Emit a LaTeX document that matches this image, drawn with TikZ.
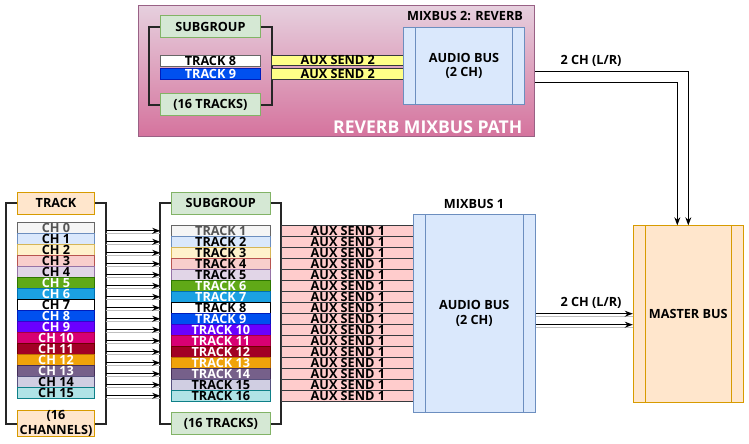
\documentclass[tikz,border=0pt]{standalone}
\usepackage{fontspec}
\setmainfont{Open Sans}
\usetikzlibrary{arrows.meta,calc}

% channel / track colours
\definecolor{chf0}{HTML}{F5F5F5}\definecolor{chd0}{HTML}{666666}
\definecolor{chf1}{HTML}{DAE8FC}\definecolor{chd1}{HTML}{6C8EBF}
\definecolor{chf2}{HTML}{FFF2CC}\definecolor{chd2}{HTML}{D6B656}
\definecolor{chf3}{HTML}{F8CECC}\definecolor{chd3}{HTML}{B85450}
\definecolor{chf4}{HTML}{E1D5E7}\definecolor{chd4}{HTML}{9673A6}
\definecolor{chf5}{HTML}{60A917}\definecolor{chd5}{HTML}{2D7600}
\definecolor{chf6}{HTML}{1BA1E2}\definecolor{chd6}{HTML}{006EAF}
\definecolor{chf7}{HTML}{FFFFFF}\definecolor{chd7}{HTML}{000000}
\definecolor{chf8}{HTML}{0050EF}\definecolor{chd8}{HTML}{001DBC}
\definecolor{chf9}{HTML}{6A00FF}\definecolor{chd9}{HTML}{3700CC}
\definecolor{chf10}{HTML}{D80073}\definecolor{chd10}{HTML}{A50040}
\definecolor{chf11}{HTML}{A20025}\definecolor{chd11}{HTML}{6F0000}
\definecolor{chf12}{HTML}{F0A30A}\definecolor{chd12}{HTML}{BD7000}
\definecolor{chf13}{HTML}{76608A}\definecolor{chd13}{HTML}{432D57}
\definecolor{chf14}{HTML}{D0CEE2}\definecolor{chd14}{HTML}{56517E}
\definecolor{chf15}{HTML}{B0E3E6}\definecolor{chd15}{HTML}{0E8088}
\definecolor{txtgray}{HTML}{555555}
% boxes
\definecolor{grnfill}{HTML}{D5E8D4}\definecolor{grnline}{HTML}{82B366}
\definecolor{orgfill}{HTML}{FFE6CC}\definecolor{orgline}{HTML}{D79B00}
\definecolor{busfill}{HTML}{DAE8FC}\definecolor{busline}{HTML}{6C8EBF}
\definecolor{auxfill}{HTML}{FFCCCC}\definecolor{auxline}{HTML}{36393D}
\definecolor{yelfill}{HTML}{FFFF88}
\definecolor{pinktop}{HTML}{E6D0DE}\definecolor{pinkbot}{HTML}{D5739D}
\definecolor{pinkline}{HTML}{996185}

\tikzset{
  box/.style={draw, line width=0.75pt, inner sep=0pt, align=center},
  hdrbox/.style={box, minimum height=16.5pt},
  row/.style={box, minimum height=8.25pt},
  bracket/.style={draw=black!85, line width=1.5pt},
  sig/.style={-{Stealth[length=6pt,width=4.5pt]}, line width=0.75pt,
    preaction={draw=black!25, line width=0.75pt, transform canvas={yshift=-2pt}, -}},
  line/.style={-{Stealth[length=6pt,width=4.5pt]}, line width=0.75pt},
  bus/.style 2 args={box, fill=#1, draw=#2, path picture={
    \draw[#2, line width=0.75pt]
      ([xshift=9pt]path picture bounding box.north west) -- ([xshift=9pt]path picture bounding box.south west)
      ([xshift=-9pt]path picture bounding box.north east) -- ([xshift=-9pt]path picture bounding box.south east);}}
}

\begin{document}
\begin{tikzpicture}[x=0.75pt, y=-0.75pt, font=\fontsize{9.5}{10.9}\selectfont\bfseries]
\useasboundingbox (0,0) rectangle (749,443);

% reverb mixbus path
\node[box, draw=pinkline, top color=pinktop, bottom color=pinkbot,
  minimum width=297.5pt, minimum height=98.6pt] (rvpath) at (336.65,70.75) {};
\node[anchor=base east, text=white, font=\fontsize{13.2}{15}\selectfont\bfseries] (rvtitle) at (527,133.3) {REVERB MIXBUS PATH};
\node (rvlabel) at (465,16) {MIXBUS 2: REVERB};
\node[hdrbox, fill=grnfill, draw=grnline, minimum width=74.5pt] (rvsub) at (210.4,26.7) {SUBGROUP};
\node[hdrbox, fill=grnfill, draw=grnline, minimum width=74.5pt] (rvend) at (210.4,104.5) {(16 TRACKS)};
\node[row, fill=white, draw=black!60, minimum width=74.5pt] (rvtrk8) at (210.4,60.5) {TRACK 8};
\node[row, fill=chf8, draw=chd8, text=white, minimum width=74.5pt] (rvtrk9) at (210.4,73.8) {TRACK 9};
\draw[bracket] (rvsub.west) -- ++(-11,0) |- (rvend.west);
\draw[bracket] (rvsub.east) -- ++(11,0) |- (rvend.east);
\node[row, fill=yelfill, draw=auxline, minimum width=99pt, minimum height=8pt] (aux2a) at (337.7,60.4) {AUX SEND 2};
\node[row, fill=yelfill, draw=auxline, minimum width=99pt, minimum height=8pt] (aux2b) at (337.7,74.2) {AUX SEND 2};
\node[bus={busfill}{busline}, minimum width=90.45pt, minimum height=57.75pt] (rvbus) at (464,65.8) {AUDIO BUS\\(2 CH)};

% input channels
\node[hdrbox, fill=orgfill, draw=orgline, minimum width=58.05pt] (trackhdr) at (56,203.3) {TRACK};
\node[hdrbox, fill=orgfill, draw=orgline, minimum width=58.05pt] (chans) at (56,423.5) {(16\\CHANNELS)};
\foreach \i/\tc in {0/txtgray,1/black,2/black,3/black,4/black,5/white,6/white,7/black,
                   8/white,9/white,10/white,11/white,12/white,13/white,14/black,15/black}
  \node[row, fill=chf\i, draw=chd\i, text=\tc, minimum width=58.05pt] (ch\i) at (56,{228.2+11*\i}) {CH \i};
\coordinate (lbr) at ($(trackhdr.east)+(11,0)$);
\draw[bracket] (trackhdr.west) -- ++(-11.3,0) |- (chans.west);
\draw[bracket] (trackhdr.east) -- (lbr) |- (chans.east);

% subgroup
\node[hdrbox, fill=grnfill, draw=grnline, minimum width=74.25pt] (subhdr) at (220.8,203.3) {SUBGROUP};
\node[hdrbox, fill=grnfill, draw=grnline, minimum width=74.25pt] (subend) at (220.8,423.5) {(16 TRACKS)};
\foreach \i/\tc in {0/txtgray,1/black,2/black,3/black,4/black,5/white,6/white,7/black,
                   8/white,9/white,10/white,11/white,12/white,13/white,14/black,15/black}{
  \pgfmathtruncatemacro{\j}{\i+1}
  \node[row, fill=chf\i, draw=chd\i, text=\tc, minimum width=74.25pt] (trk\j) at (220.8,{230.8+11*\i}) {TRACK \j};
}
\coordinate (mbr) at ($(subhdr.west)+(-10.6,0)$);
\draw[bracket] (subhdr.west) -- (mbr) |- (subend.west);
\draw[bracket] (subhdr.east) -- ++(10.4,0) |- (subend.east);
\foreach \j in {1,...,16}
  \draw[sig] (lbr |- trk\j.west) -- (mbr |- trk\j.west);

% aux sends to mixbus 1
\foreach \j in {1,...,16}
  \node[row, fill=auxfill, draw=auxline, minimum width=99.2pt] (aux\j) at (347.85,{220+11*\j}) {AUX SEND 1};
\node[bus={busfill}{busline}, minimum width=91.3pt, minimum height=148.7pt] (mixbus) at (474.2,313.2) {AUDIO BUS\\(2 CH)};
\node (mixlabel) at (474,204) {MIXBUS 1};

% master
\node[bus={orgfill}{orgline}, minimum width=82.5pt, minimum height=132.2pt] (master) at (688.3,313.9) {MASTER BUS};
\draw[sig] ($(mixbus.east)+(0,0.5)$) coordinate (m1) -- (m1 -| master.west);
\draw[sig] ($(mixbus.east)+(0,11.5)$) coordinate (m2) -- (m2 -| master.west);
\node (mixch) at (591,303) {2 CH (L/R)};
\draw[line] ($(rvpath.east)+(0,0.5)$) -| (master.north);
\draw[line] ($(rvpath.east)+(0,11.3)$) -| ($(master.north)+(-11,0)$);
\node (rvch) at (591,61) {2 CH (L/R)};
\end{tikzpicture}
\end{document}
